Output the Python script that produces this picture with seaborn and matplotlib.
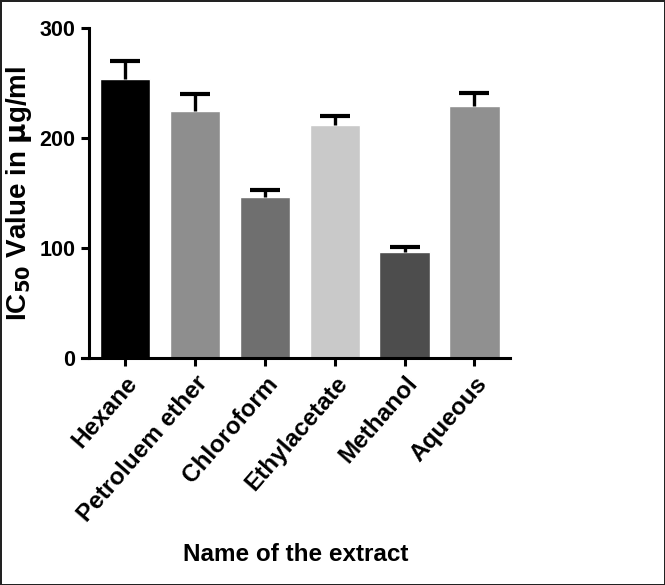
import matplotlib
matplotlib.use("Agg")
import matplotlib.pyplot as plt
import numpy as np
import pandas as pd
import seaborn as sns

extracts = ["Hexane", "Petroluem ether", "Chloroform", "Ethylacetate", "Methanol", "Aqueous"]
ic50 = [254, 225, 146, 212, 96, 229]
sem = [16, 15, 7, 8, 5, 12]
bar_colors = ["#000000", "#8e8e8e", "#6f6f6f", "#c9c9c9", "#4d4d4d", "#909090"]


def main():
    sns.set_theme(style="ticks")
    plt.rcParams["font.family"] = ["Liberation Sans", "DejaVu Sans"]
    plt.rcParams["font.weight"] = "bold"
    plt.rcParams["text.color"] = "black"
    plt.rcParams["axes.labelcolor"] = "black"
    plt.rcParams["xtick.color"] = "black"
    plt.rcParams["ytick.color"] = "black"

    df = pd.DataFrame({"extract": extracts, "ic50": ic50})

    fig = plt.figure(figsize=(6.65, 5.85), dpi=100)
    fig.patch.set_edgecolor("#222222")
    fig.patch.set_linewidth(2)
    ax = fig.add_axes([0.123, 0.388, 0.644, 0.564])

    sns.barplot(data=df, x="extract", y="ic50", hue="extract", palette=bar_colors,
                errorbar=None, width=0.72, saturation=1, legend=False, ax=ax)

    xs = np.arange(len(extracts))
    _, caps, _ = ax.errorbar(xs, ic50, yerr=[np.zeros(len(sem)), sem], fmt="none",
                             ecolor="black", elinewidth=2.4, capsize=11, capthick=3,
                             zorder=5)
    # only the upper half is drawn in the original, so drop the lower caps
    caps[0].set_visible(False)

    ax.set_ylim(0, 300)
    ax.set_xlim(-0.62, 5.51)
    ax.set_yticks([0, 100, 200, 300])
    sns.despine(ax=ax)
    ax.spines["left"].set_position(("data", -0.51))
    ax.spines["left"].set_bounds(0, 300)
    for s in ["left", "bottom"]:
        ax.spines[s].set_linewidth(2.2)
        ax.spines[s].set_color("black")
    ax.tick_params(axis="both", length=6, width=2.2, colors="black", pad=4)
    ax.tick_params(axis="y", labelsize=15.5)
    ax.tick_params(axis="x", labelsize=17.5)

    ax.set_xticks(xs)
    ax.set_xticklabels(extracts, rotation=49, ha="right", rotation_mode="anchor",
                       fontweight="bold")
    for lbl in ax.get_yticklabels():
        lbl.set_fontweight("bold")

    ax.set_xlabel("Name of the extract", fontsize=17.5, fontweight="bold", labelpad=12)
    ax.set_ylabel(r"IC$_{\mathbf{50}}$ Value in $\mathbf{\mu}$g/ml", fontsize=20,
                  fontweight="bold", labelpad=4)

    fig.savefig("out.png", dpi=100)


if __name__ == "__main__":
    main()
